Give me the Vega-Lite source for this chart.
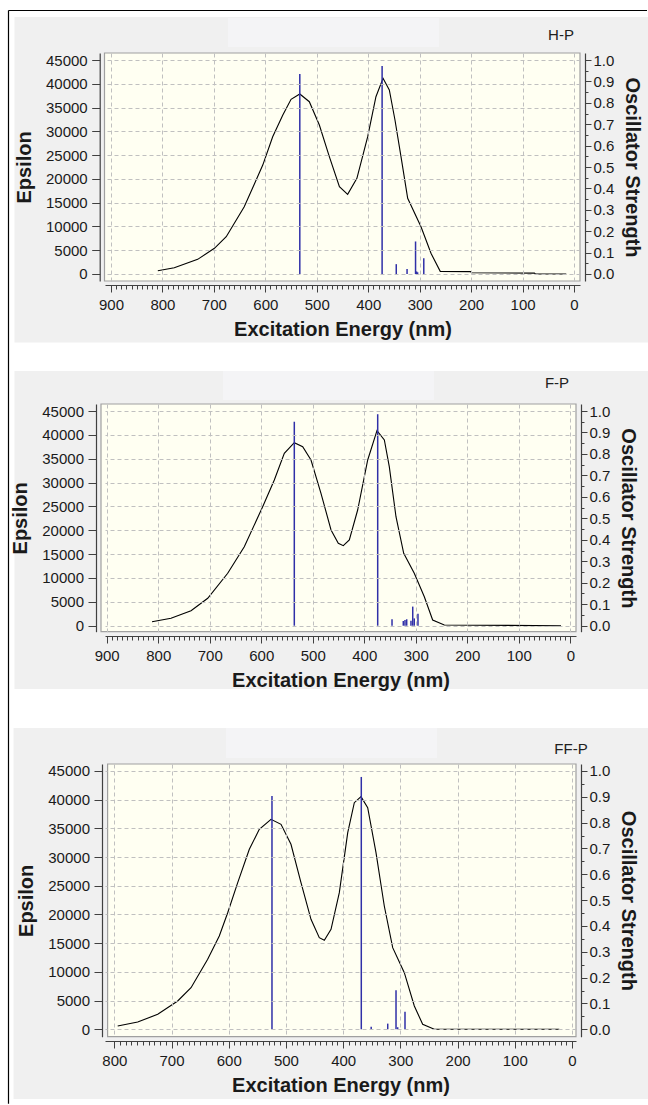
{
  "$schema": "https://vega.github.io/schema/vega-lite/v6.json",
  "background": "white",
  "padding": 0,
  "autosize": {"type": "pad"},
  "spacing": 0,
  "bounds": "flush",
  "config": {
    "view": {"stroke": null},
    "axis": {
      "labelFont": "Liberation Sans", "labelFontSize": 15, "labelColor": "#1a1a1a",
      "titleFont": "Liberation Sans", "titleFontSize": 20, "titleFontWeight": "bold", "titleColor": "#1a1a1a",
      "domainColor": "#404040", "tickColor": "#404040", "domainWidth": 1.2, "tickWidth": 1,
      "gridColor": "#c0c0c0", "gridDash": [4, 3], "gridWidth": 1, "labelFlush": false, "labelOverlap": false
    }
  },
  "datasets": {
    "c1": [
      {"nm": 809, "eps": 700}, {"nm": 777, "eps": 1330}, {"nm": 731.5, "eps": 3080}, {"nm": 699, "eps": 5400},
      {"nm": 676, "eps": 7850}, {"nm": 641, "eps": 14150}, {"nm": 605, "eps": 22900}, {"nm": 585.7, "eps": 28870},
      {"nm": 566, "eps": 33430}, {"nm": 550, "eps": 36730}, {"nm": 533, "eps": 37850}, {"nm": 514.5, "eps": 36230},
      {"nm": 495, "eps": 31330}, {"nm": 475.6, "eps": 24670}, {"nm": 456, "eps": 18360}, {"nm": 440, "eps": 16750},
      {"nm": 422, "eps": 20120}, {"nm": 401, "eps": 28870}, {"nm": 385, "eps": 37280}, {"nm": 371.2, "eps": 41150},
      {"nm": 359, "eps": 38690}, {"nm": 348, "eps": 32380}, {"nm": 336.3, "eps": 24670}, {"nm": 323.3, "eps": 15920},
      {"nm": 297.4, "eps": 9950}, {"nm": 278, "eps": 4350}, {"nm": 260, "eps": 560}, {"nm": 201, "eps": 490},
      {"nm": 199, "eps": 250}, {"nm": 77, "eps": 180}, {"nm": 75, "eps": 20}, {"nm": 15, "eps": 0}
    ],
    "s1": [
      {"nm": 533, "f": 0.935}, {"nm": 373, "f": 0.972}, {"nm": 345.5, "f": 0.046}, {"nm": 324.5, "f": 0.023},
      {"nm": 308, "f": 0.152}, {"nm": 306, "f": 0.012}, {"nm": 304, "f": 0.008}, {"nm": 292, "f": 0.074}
    ],
    "c2": [
      {"nm": 812, "eps": 838}, {"nm": 775.2, "eps": 1551}, {"nm": 736.3, "eps": 3144}, {"nm": 703.9, "eps": 5743},
      {"nm": 665.1, "eps": 10983}, {"nm": 632.9, "eps": 16558}, {"nm": 597.2, "eps": 24942}, {"nm": 574.6, "eps": 30538},
      {"nm": 555.2, "eps": 36134}, {"nm": 535.8, "eps": 38357}, {"nm": 519.5, "eps": 37518}, {"nm": 503.4, "eps": 34730},
      {"nm": 484, "eps": 27750}, {"nm": 464.5, "eps": 20058}, {"nm": 450.4, "eps": 17266}, {"nm": 440.7, "eps": 16768},
      {"nm": 429, "eps": 17962}, {"nm": 412.8, "eps": 24250}, {"nm": 393.3, "eps": 34730}, {"nm": 375.3, "eps": 40871},
      {"nm": 361, "eps": 38922}, {"nm": 351.4, "eps": 33326}, {"nm": 338.4, "eps": 22846}, {"nm": 323.4, "eps": 15174},
      {"nm": 302.9, "eps": 10983}, {"nm": 283.4, "eps": 6078}, {"nm": 267.2, "eps": 1195}, {"nm": 244.6, "eps": 147},
      {"nm": 18, "eps": 0}
    ],
    "s2": [
      {"nm": 535.8, "f": 0.95}, {"nm": 373.9, "f": 0.985}, {"nm": 346.1, "f": 0.03}, {"nm": 324.2, "f": 0.022},
      {"nm": 320.9, "f": 0.027}, {"nm": 317.6, "f": 0.03}, {"nm": 309.3, "f": 0.023}, {"nm": 305.9, "f": 0.089},
      {"nm": 302.9, "f": 0.034}, {"nm": 295.7, "f": 0.056}
    ],
    "c3": [
      {"nm": 794.1, "eps": 575}, {"nm": 759.1, "eps": 1272}, {"nm": 724.1, "eps": 2613}, {"nm": 689.2, "eps": 4930},
      {"nm": 665.9, "eps": 7247}, {"nm": 636.8, "eps": 12195}, {"nm": 616.5, "eps": 16254}, {"nm": 601.8, "eps": 20314},
      {"nm": 584.3, "eps": 25540}, {"nm": 564, "eps": 31358}, {"nm": 546.6, "eps": 34843}, {"nm": 526.1, "eps": 36585},
      {"nm": 508.6, "eps": 35714}, {"nm": 491.2, "eps": 32230}, {"nm": 473.7, "eps": 25540}, {"nm": 456.2, "eps": 19164},
      {"nm": 441.7, "eps": 15958}, {"nm": 432.9, "eps": 15505}, {"nm": 421.2, "eps": 17422}, {"nm": 406.7, "eps": 23798},
      {"nm": 392, "eps": 34251}, {"nm": 380.5, "eps": 39477}, {"nm": 368.8, "eps": 40523}, {"nm": 357.1, "eps": 38606},
      {"nm": 342.6, "eps": 30767}, {"nm": 328.1, "eps": 21481}, {"nm": 313.4, "eps": 14216}, {"nm": 293.1, "eps": 9861},
      {"nm": 275.6, "eps": 4059}, {"nm": 261, "eps": 871}, {"nm": 240.7, "eps": 0}, {"nm": 22.2, "eps": 0}
    ],
    "s3": [
      {"nm": 524.4, "f": 0.903}, {"nm": 368.3, "f": 0.977}, {"nm": 351, "f": 0.01}, {"nm": 322.1, "f": 0.022},
      {"nm": 307.6, "f": 0.151}, {"nm": 304.7, "f": 0.008}, {"nm": 291.9, "f": 0.068}
    ]
  },
  "vconcat": [
    {
      "width": 475, "height": 228,
      "resolve": {"scale": {"y": "independent"}, "axis": {"x": "independent"}},
      "layer": [
        {"data": {"values": [{}]}, "mark": {"type": "rect", "fill": "#ffffff"},
         "encoding": {"x": {"datum": 1113.82, "type": "quantitative", "scale": {"domain": [-11.66, 911.66], "reverse": true, "nice": false, "zero": false}, "axis": null}, "x2": {"datum": -145.6},
                      "y": {"datum": 57616, "type": "quantitative", "scale": {"domain": [-1472, 46472], "nice": false, "zero": false}, "axis": null}, "y2": {"datum": -174720}}},
        {"data": {"values": [{}]}, "mark": {"type": "rule", "color": "#000000", "strokeWidth": 1.2},
         "encoding": {"x": {"datum": 1099.24, "type": "quantitative", "scale": {"domain": [-11.66, 911.66], "reverse": true, "nice": false, "zero": false}, "axis": null},
                      "y": {"datum": 55408, "type": "quantitative", "scale": {"domain": [-1472, 46472], "nice": false, "zero": false}, "axis": null}, "y2": {"datum": -174500}}},
        {"data": {"values": [{}]}, "mark": {"type": "rule", "color": "#000000", "strokeWidth": 1.2},
         "encoding": {"x": {"datum": 1099.24, "type": "quantitative", "scale": {"domain": [-11.66, 911.66], "reverse": true, "nice": false, "zero": false}, "axis": null}, "x2": {"datum": -141.9},
                      "y": {"datum": 55408, "type": "quantitative", "scale": {"domain": [-1472, 46472], "nice": false, "zero": false}, "axis": null}}},
        {"data": {"values": [{}]}, "mark": {"type": "rect", "fill": "#f0f0f0"},
         "encoding": {"x": {"datum": 1087.58, "type": "quantitative", "scale": {"domain": [-11.66, 911.66], "reverse": true, "nice": false, "zero": false}, "axis": null}, "x2": {"datum": -145.6},
                      "y": {"datum": 54042, "type": "quantitative", "scale": {"domain": [-1472, 46472], "nice": false, "zero": false}, "axis": null}, "y2": {"datum": -14404}}},
        {"data": {"values": [{}]}, "mark": {"type": "rect", "fill": "#f4f4f6"},
         "encoding": {"x": {"datum": 672.57, "type": "quantitative", "scale": {"domain": [-11.66, 911.66], "reverse": true, "nice": false, "zero": false}, "axis": null}, "x2": {"datum": 262.42},
                      "y": {"datum": 53831, "type": "quantitative", "scale": {"domain": [-1472, 46472], "nice": false, "zero": false}, "axis": null}, "y2": {"datum": 47733}}},
        {"data": {"values": [{}]}, "mark": {"type": "rect", "fill": "#fffff2", "stroke": "#a0a0a0", "strokeWidth": 1.2},
         "encoding": {"x": {"datum": 912.63, "type": "quantitative", "scale": {"domain": [-11.66, 911.66], "reverse": true, "nice": false, "zero": false}, "axis": null}, "x2": {"datum": -11.66},
                      "y": {"datum": 46472, "type": "quantitative", "scale": {"domain": [-1472, 46472], "nice": false, "zero": false}, "axis": null}, "y2": {"datum": -1472}}},
        {"data": {"values": [{}]}, "mark": {"type": "text", "font": "Liberation Sans", "fontSize": 15, "color": "#202020", "align": "center", "baseline": "middle"},
         "encoding": {"x": {"datum": 25.27, "type": "quantitative", "scale": {"domain": [-11.66, 911.66], "reverse": true, "nice": false, "zero": false}, "axis": null},
                      "y": {"datum": 50256, "type": "quantitative", "scale": {"domain": [-1472, 46472], "nice": false, "zero": false}, "axis": null}, "text": {"value": "H-P"}}},
        {"data": {"name": "c1"}, "mark": {"type": "line", "color": "#000000", "strokeWidth": 1.1},
         "encoding": {
           "x": {"field": "nm", "type": "quantitative", "scale": {"domain": [-11.66, 911.66], "reverse": true, "nice": false, "zero": false},
                 "axis": {"title": "Excitation Energy (nm)", "orient": "bottom", "offset": 4, "format": "d",
                          "values": [0,10,20,30,40,50,60,70,80,90,100,110,120,130,140,150,160,170,180,190,200,210,220,230,240,250,260,270,280,290,300,310,320,330,340,350,360,370,380,390,400,410,420,430,440,450,460,470,480,490,500,510,520,530,540,550,560,570,580,590,600,610,620,630,640,650,660,670,680,690,700,710,720,730,740,750,760,770,780,790,800,810,820,830,840,850,860,870,880,890,900],
                          "labelExpr": "datum.value % 100 === 0 ? datum.label : ''",
                          "tickSize": {"condition": {"test": "datum.value % 100 === 0", "value": 7}, "value": 4},
                          "labelPadding": 5, "grid": true,
                          "gridOpacity": {"condition": {"test": "datum.value % 100 === 0", "value": 1}, "value": 0},
                          "titlePadding": 7, "zindex": 1}},
           "y": {"field": "eps", "type": "quantitative", "scale": {"domain": [-1472, 46472], "nice": false, "zero": false},
                 "axis": {"title": "Epsilon", "orient": "left", "offset": 5.3, "format": "d",
                          "values": [0,5000,10000,15000,20000,25000,30000,35000,40000,45000],
                          "tickSize": 8, "labelPadding": 4.5, "grid": true, "titlePadding": 11, "zindex": 1}}
         }},
        {"data": {"name": "s1"}, "mark": {"type": "rule", "color": "#3030a8", "strokeWidth": 1.5},
         "encoding": {
           "x": {"field": "nm", "type": "quantitative", "scale": {"domain": [-11.66, 911.66], "reverse": true, "nice": false, "zero": false}, "axis": null},
           "y": {"field": "f", "type": "quantitative", "scale": {"domain": [-0.032711, 1.032711], "nice": false, "zero": false},
                 "axis": {"title": "Oscillator Strength", "orient": "right", "offset": 5,
                          "values": [0,0.05,0.1,0.15,0.2,0.25,0.3,0.35,0.4,0.45,0.5,0.55,0.6,0.65,0.7,0.75,0.8,0.85,0.9,0.95,1],
                          "labelExpr": "round(datum.value * 100) % 10 === 0 ? format(datum.value, '.1f') : ''",
                          "tickSize": {"condition": {"test": "round(datum.value * 100) % 10 === 0", "value": 6}, "value": 3},
                          "labelPadding": 2, "grid": false, "titlePadding": 8, "zindex": 1}},
           "y2": {"datum": 0}
         }}
      ]
    },
    {"width": 1, "height": 123, "data": {"values": []}, "mark": "point"},
    {
      "width": 471, "height": 227.7,
      "resolve": {"scale": {"y": "independent"}, "axis": {"x": "independent"}},
      "layer": [
        {"data": {"values": [{}]}, "mark": {"type": "rect", "fill": "#f0f0f0"},
         "encoding": {"x": {"datum": 1078.99, "type": "quantitative", "scale": {"domain": [-11.07, 903.3], "reverse": true, "nice": false, "zero": false}, "axis": null}, "x2": {"datum": -152.59},
                      "y": {"datum": 53384, "type": "quantitative", "scale": {"domain": [-1257.6, 46467.3], "nice": false, "zero": false}, "axis": null}, "y2": {"datum": -13268}}},
        {"data": {"values": [{}]}, "mark": {"type": "rect", "fill": "#f4f4f6"},
         "encoding": {"x": {"datum": 674.23, "type": "quantitative", "scale": {"domain": [-11.07, 903.3], "reverse": true, "nice": false, "zero": false}, "axis": null}, "x2": {"datum": 264.6},
                      "y": {"datum": 53384, "type": "quantitative", "scale": {"domain": [-1257.6, 46467.3], "nice": false, "zero": false}, "axis": null}, "y2": {"datum": 47306}}},
        {"data": {"values": [{}]}, "mark": {"type": "rect", "fill": "#fffff2", "stroke": "#a0a0a0", "strokeWidth": 1.2},
         "encoding": {"x": {"datum": 911.07, "type": "quantitative", "scale": {"domain": [-11.07, 903.3], "reverse": true, "nice": false, "zero": false}, "axis": null}, "x2": {"datum": -11.07},
                      "y": {"datum": 46467.3, "type": "quantitative", "scale": {"domain": [-1257.6, 46467.3], "nice": false, "zero": false}, "axis": null}, "y2": {"datum": -1257.6}}},
        {"data": {"values": [{}]}, "mark": {"type": "text", "font": "Liberation Sans", "fontSize": 15, "color": "#202020", "align": "center", "baseline": "middle"},
         "encoding": {"x": {"datum": 25.8, "type": "quantitative", "scale": {"domain": [-11.07, 903.3], "reverse": true, "nice": false, "zero": false}, "axis": null},
                      "y": {"datum": 50869, "type": "quantitative", "scale": {"domain": [-1257.6, 46467.3], "nice": false, "zero": false}, "axis": null}, "text": {"value": "F-P"}}},
        {"data": {"name": "c2"}, "mark": {"type": "line", "color": "#000000", "strokeWidth": 1.1},
         "encoding": {
           "x": {"field": "nm", "type": "quantitative", "scale": {"domain": [-11.07, 903.3], "reverse": true, "nice": false, "zero": false},
                 "axis": {"title": "Excitation Energy (nm)", "orient": "bottom", "offset": 4.3, "format": "d",
                          "values": [0,10,20,30,40,50,60,70,80,90,100,110,120,130,140,150,160,170,180,190,200,210,220,230,240,250,260,270,280,290,300,310,320,330,340,350,360,370,380,390,400,410,420,430,440,450,460,470,480,490,500,510,520,530,540,550,560,570,580,590,600,610,620,630,640,650,660,670,680,690,700,710,720,730,740,750,760,770,780,790,800,810,820,830,840,850,860,870,880,890,900],
                          "labelExpr": "datum.value % 100 === 0 ? datum.label : ''",
                          "tickSize": {"condition": {"test": "datum.value % 100 === 0", "value": 7}, "value": 4},
                          "labelPadding": 5, "grid": true,
                          "gridOpacity": {"condition": {"test": "datum.value % 100 === 0", "value": 1}, "value": 0},
                          "titlePadding": 7, "zindex": 1}},
           "y": {"field": "eps", "type": "quantitative", "scale": {"domain": [-1257.6, 46467.3], "nice": false, "zero": false},
                 "axis": {"title": "Epsilon", "orient": "left", "offset": 9, "format": "d",
                          "values": [0,5000,10000,15000,20000,25000,30000,35000,40000,45000],
                          "tickSize": 8, "labelPadding": 4.5, "grid": true, "titlePadding": 11, "zindex": 1}}
         }},
        {"data": {"name": "s2"}, "mark": {"type": "rule", "color": "#3030a8", "strokeWidth": 1.5},
         "encoding": {
           "x": {"field": "nm", "type": "quantitative", "scale": {"domain": [-11.07, 903.3], "reverse": true, "nice": false, "zero": false}, "axis": null},
           "y": {"field": "f", "type": "quantitative", "scale": {"domain": [-0.027947, 1.032607], "nice": false, "zero": false},
                 "axis": {"title": "Oscillator Strength", "orient": "right", "offset": 5,
                          "values": [0,0.05,0.1,0.15,0.2,0.25,0.3,0.35,0.4,0.45,0.5,0.55,0.6,0.65,0.7,0.75,0.8,0.85,0.9,0.95,1],
                          "labelExpr": "round(datum.value * 100) % 10 === 0 ? format(datum.value, '.1f') : ''",
                          "tickSize": {"condition": {"test": "round(datum.value * 100) % 10 === 0", "value": 6}, "value": 3},
                          "labelPadding": 2, "grid": false, "titlePadding": 8, "zindex": 1}},
           "y2": {"datum": 0}
         }}
      ]
    },
    {"width": 1, "height": 131.3, "data": {"values": []}, "mark": "point"},
    {
      "width": 471, "height": 272.7,
      "resolve": {"scale": {"y": "independent"}, "axis": {"x": "independent"}},
      "layer": [
        {"data": {"values": [{}]}, "mark": {"type": "rect", "fill": "#f0f0f0"},
         "encoding": {"x": {"datum": 976.18, "type": "quantitative", "scale": {"domain": [-6.99, 816.26], "reverse": true, "nice": false, "zero": false}, "axis": null}, "x2": {"datum": -134.41},
                      "y": {"datum": 52491, "type": "quantitative", "scale": {"domain": [-1289.2, 46219.5], "nice": false, "zero": false}, "axis": null}, "y2": {"datum": -12143}}},
        {"data": {"values": [{}]}, "mark": {"type": "rect", "fill": "#f4f4f6"},
         "encoding": {"x": {"datum": 604.76, "type": "quantitative", "scale": {"domain": [-6.99, 816.26], "reverse": true, "nice": false, "zero": false}, "axis": null}, "x2": {"datum": 235.96},
                      "y": {"datum": 52491, "type": "quantitative", "scale": {"domain": [-1289.2, 46219.5], "nice": false, "zero": false}, "axis": null}, "y2": {"datum": 47265}}},
        {"data": {"values": [{}]}, "mark": {"type": "rect", "fill": "#fffff2", "stroke": "#a0a0a0", "strokeWidth": 1.2},
         "encoding": {"x": {"datum": 811.71, "type": "quantitative", "scale": {"domain": [-6.99, 816.26], "reverse": true, "nice": false, "zero": false}, "axis": null}, "x2": {"datum": -6.99},
                      "y": {"datum": 46219.5, "type": "quantitative", "scale": {"domain": [-1289.2, 46219.5], "nice": false, "zero": false}, "axis": null}, "y2": {"datum": -1289.2}}},
        {"data": {"values": [{}]}, "mark": {"type": "text", "font": "Liberation Sans", "fontSize": 15, "color": "#202020", "align": "center", "baseline": "middle"},
         "encoding": {"x": {"datum": 1.75, "type": "quantitative", "scale": {"domain": [-6.99, 816.26], "reverse": true, "nice": false, "zero": false}, "axis": null},
                      "y": {"datum": 48833, "type": "quantitative", "scale": {"domain": [-1289.2, 46219.5], "nice": false, "zero": false}, "axis": null}, "text": {"value": "FF-P"}}},
        {"data": {"name": "c3"}, "mark": {"type": "line", "color": "#000000", "strokeWidth": 1.1},
         "encoding": {
           "x": {"field": "nm", "type": "quantitative", "scale": {"domain": [-6.99, 816.26], "reverse": true, "nice": false, "zero": false},
                 "axis": {"title": "Excitation Energy (nm)", "orient": "bottom", "offset": 4.3, "format": "d",
                          "values": [0,10,20,30,40,50,60,70,80,90,100,110,120,130,140,150,160,170,180,190,200,210,220,230,240,250,260,270,280,290,300,310,320,330,340,350,360,370,380,390,400,410,420,430,440,450,460,470,480,490,500,510,520,530,540,550,560,570,580,590,600,610,620,630,640,650,660,670,680,690,700,710,720,730,740,750,760,770,780,790,800],
                          "labelExpr": "datum.value % 100 === 0 ? datum.label : ''",
                          "tickSize": {"condition": {"test": "datum.value % 100 === 0", "value": 7}, "value": 4},
                          "labelPadding": 5, "grid": true,
                          "gridOpacity": {"condition": {"test": "datum.value % 100 === 0", "value": 1}, "value": 0},
                          "titlePadding": 7, "zindex": 1}},
           "y": {"field": "eps", "type": "quantitative", "scale": {"domain": [-1289.2, 46219.5], "nice": false, "zero": false},
                 "axis": {"title": "Epsilon", "orient": "left", "offset": 3, "format": "d",
                          "values": [0,5000,10000,15000,20000,25000,30000,35000,40000,45000],
                          "tickSize": 8, "labelPadding": 4.5, "grid": true, "titlePadding": 11, "zindex": 1}}
         }},
        {"data": {"name": "s3"}, "mark": {"type": "rule", "color": "#3030a8", "strokeWidth": 1.5},
         "encoding": {
           "x": {"field": "nm", "type": "quantitative", "scale": {"domain": [-6.99, 816.26], "reverse": true, "nice": false, "zero": false}, "axis": null},
           "y": {"field": "f", "type": "quantitative", "scale": {"domain": [-0.028649, 1.0271], "nice": false, "zero": false},
                 "axis": {"title": "Oscillator Strength", "orient": "right", "offset": 5,
                          "values": [0,0.05,0.1,0.15,0.2,0.25,0.3,0.35,0.4,0.45,0.5,0.55,0.6,0.65,0.7,0.75,0.8,0.85,0.9,0.95,1],
                          "labelExpr": "round(datum.value * 100) % 10 === 0 ? format(datum.value, '.1f') : ''",
                          "tickSize": {"condition": {"test": "round(datum.value * 100) % 10 === 0", "value": 6}, "value": 3},
                          "labelPadding": 2, "grid": false, "titlePadding": 8, "zindex": 1}},
           "y2": {"datum": 0}
         }}
      ]
    }
  ]
}
